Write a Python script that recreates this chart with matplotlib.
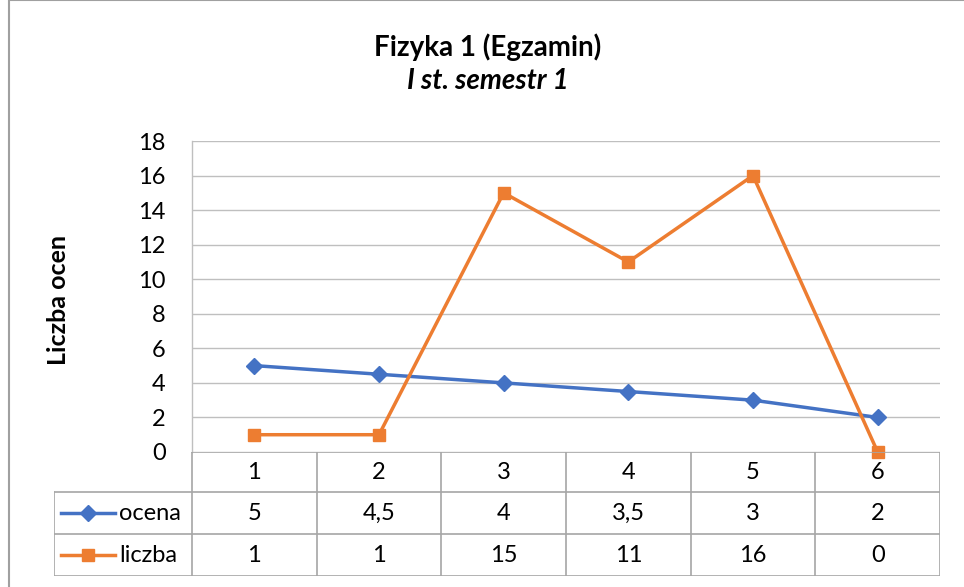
import matplotlib
matplotlib.use("Agg")
import matplotlib.pyplot as plt
from matplotlib.patches import Rectangle

plt.rcParams['font.family'] = ['Lato', 'DejaVu Sans']

categories = ["1", "2", "3", "4", "5", "6"]
ocena = [5, 4.5, 4, 3.5, 3, 2]
liczba = [1, 1, 15, 11, 16, 0]
ocena_labels = ["5", "4,5", "4", "3,5", "3", "2"]
liczba_labels = ["1", "1", "15", "11", "16", "0"]
yticks = [0, 2, 4, 6, 8, 10, 12, 14, 16, 18]

W, H = 964, 587
fig = plt.figure(figsize=(W / 100, H / 100), dpi=100)

def fx(x): return x / W
def fy(y): return 1 - y / H

blue = "#4472C4"
orange = "#ED7D31"
grid = "#BFBFBF"
tgrid = "#A6A6A6"

# outer border
fig.patches.append(Rectangle((fx(9), fy(600)), fx(1000), 600 / H, transform=fig.transFigure,
                             fill=False, edgecolor="#A0A0A0", linewidth=1.5))

# plot area
L, R, T, B = 192, 940, 141, 452
ax = fig.add_axes([fx(L), fy(B), fx(R - L), (B - T) / H])
x = list(range(len(categories)))
ax.set_xlim(-0.5, len(categories) - 0.5)
ax.set_ylim(0, 18)
ax.set_yticks(yticks)
ax.set_yticklabels([str(v) for v in yticks], fontsize=17)
ax.tick_params(axis='y', length=0, pad=19)
ax.set_xticks([])
for s in ["top", "right", "bottom"]:
    ax.spines[s].set_visible(False)
ax.spines["left"].set_color(grid)
ax.spines["left"].set_linewidth(1)
ax.yaxis.grid(True, color=grid, linewidth=1)
ax.set_axisbelow(True)
ax.plot(x, ocena, color=blue, linewidth=2.5, marker="D", markersize=8.5, clip_on=False, zorder=3)
ax.plot(x, liczba, color=orange, linewidth=2.5, marker="s", markersize=9, clip_on=False, zorder=4)

fig.text(fx(59), fy(300), "Liczba ocen", rotation=90, ha="center", va="center",
         fontsize=18, fontweight="bold")

# data table
tb = fig.add_axes([fx(54), fy(576), fx(R - 54), (576 - B) / H])
tb.set_xlim(54, R)
tb.set_ylim(576, B)
tb.axis("off")
rows_y = [B, 492, 534, 576]
colw = (R - L) / len(categories)
lk = dict(color=tgrid, linewidth=1.2)
tb.plot([L, R], [B, B], **lk)
for yy in rows_y[1:]:
    tb.plot([54, R], [yy, yy], **lk)
tb.plot([54, 54], [492, 576], **lk)
for i in range(len(categories) + 1):
    tb.plot([L + i * colw] * 2, [B, 576], **lk)
fs = 17
for i in range(len(categories)):
    cx = L + (i + 0.5) * colw
    tb.text(cx, (B + 492) / 2, categories[i], ha="center", va="center", fontsize=fs)
    tb.text(cx, (492 + 534) / 2, ocena_labels[i], ha="center", va="center", fontsize=fs)
    tb.text(cx, (534 + 576) / 2, liczba_labels[i], ha="center", va="center", fontsize=fs)
for (ym, col, mk, ms, name) in [((492 + 534) / 2, blue, "D", 8, "ocena"),
                                 ((534 + 576) / 2, orange, "s", 9, "liczba")]:
    tb.plot([61, 115], [ym, ym], color=col, linewidth=2.5)
    tb.plot([88], [ym], color=col, marker=mk, markersize=ms)
    tb.text(119, ym, name, ha="left", va="center", fontsize=fs)

# titles
fig.text(fx(488), fy(56), "Fizyka 1 (Egzamin)", ha="center", va="baseline",
         fontsize=20, fontweight="bold")
fig.text(fx(488), fy(89), "I st. semestr 1", ha="center", va="baseline",
         fontsize=20, fontweight="bold", fontstyle="italic")

fig.savefig("out.png", dpi=100)
